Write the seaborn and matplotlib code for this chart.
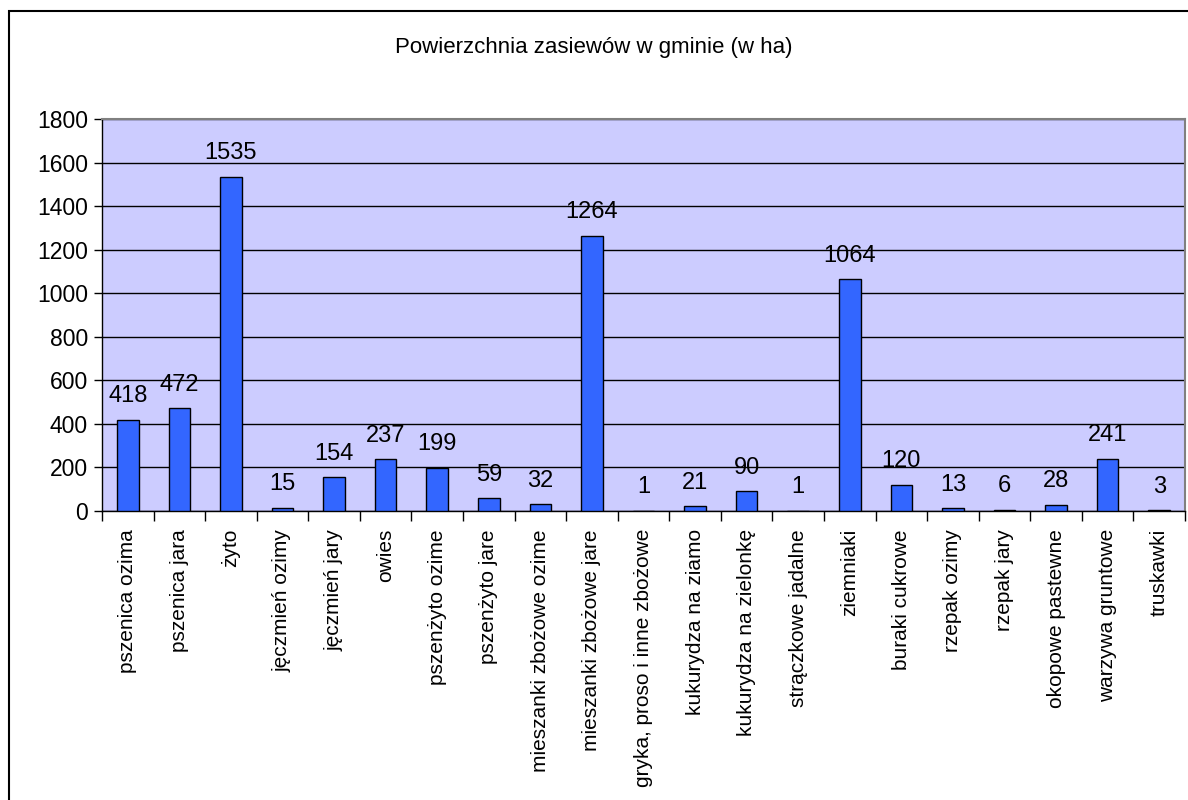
import numpy as np
import pandas as pd
import seaborn as sns
import matplotlib
matplotlib.use("Agg")
import matplotlib.pyplot as plt
from matplotlib.patches import Rectangle

# data
uprawy = ["pszenica ozima", "pszenica jara", "żyto", "jęczmień ozimy", "jęczmień jary",
          "owies", "pszenżyto ozime", "pszenżyto jare", "mieszanki zbożowe ozime",
          "mieszanki zbożowe jare", "gryka, proso i inne zbożowe", "kukurydza na ziamo",
          "kukurydza na zielonkę", "strączkowe jadalne", "ziemniaki", "buraki cukrowe",
          "rzepak ozimy", "rzepak jary", "okopowe pastewne", "warzywa gruntowe", "truskawki"]
powierzchnia = [418, 472, 1535, 15, 154, 237, 199, 59, 32, 1264, 1, 21, 90, 1, 1064,
                120, 13, 6, 28, 241, 3]
y_ticks = [0, 200, 400, 600, 800, 1000, 1200, 1400, 1600, 1800]
tytul = "Powierzchnia zasiewów w gminie (w ha)"

df = pd.DataFrame({"uprawa": uprawy, "ha": powierzchnia})

sns.set_theme(style="white")
plt.rcParams['font.family'] = ['Liberation Sans', 'DejaVu Sans']

fig = plt.figure(figsize=(11.88, 8), dpi=100)
ax = fig.add_axes([102/1188, 1-511/800, (1185-102)/1188, (511-119)/800])
ax.set_facecolor("#CCCCFF")

sns.barplot(data=df, x="uprawa", y="ha", color="#3366FF", width=0.42,
            edgecolor="black", linewidth=1, saturation=1, ax=ax, zorder=3)

ax.set_ylim(0, 1800)
ax.set_xlim(-0.5, len(uprawy)-0.5)
ax.set_yticks(y_ticks)
ax.set_yticklabels([str(v) for v in y_ticks], fontsize=16.5, color="black")
ax.yaxis.grid(True, color="black", linewidth=1)
ax.set_axisbelow(True)

ax.set_xticks(range(len(uprawy)))
ax.set_xticklabels(uprawy, rotation=90, fontsize=15, color="black")
ax.tick_params(axis="x", which="major", length=0, pad=13)
ax.set_xticks(np.arange(-0.5, len(uprawy), 1), minor=True)
ax.tick_params(axis="x", which="minor", length=7, width=1, color="black", direction="out", bottom=True)
ax.tick_params(axis="y", which="major", length=6, width=1, color="black", direction="out", left=True, pad=4)
ax.set_xlabel("")
ax.set_ylabel("")

for s in ["left", "bottom"]:
    ax.spines[s].set_color("black")
    ax.spines[s].set_linewidth(1)
for s in ["top", "right"]:
    ax.spines[s].set_color("#808080")
    ax.spines[s].set_linewidth(1.5)

# value labels above bars
for i, v in enumerate(powierzchnia):
    ax.annotate(str(v), (i, v), xytext=(0, 9), textcoords="offset points",
                ha="center", va="bottom", fontsize=17, color="black")

fig.text(594/1188, 1-48/800, tytul, ha="center", va="center", fontsize=16, color="black")

# chart area border (runs off the right and bottom edges)
fig.patches.append(Rectangle((9/1188, -0.1), 1.2, 1-11/800+0.1, transform=fig.transFigure,
                             fill=False, edgecolor="black", linewidth=1.5))

fig.savefig("out.png", dpi=100)
